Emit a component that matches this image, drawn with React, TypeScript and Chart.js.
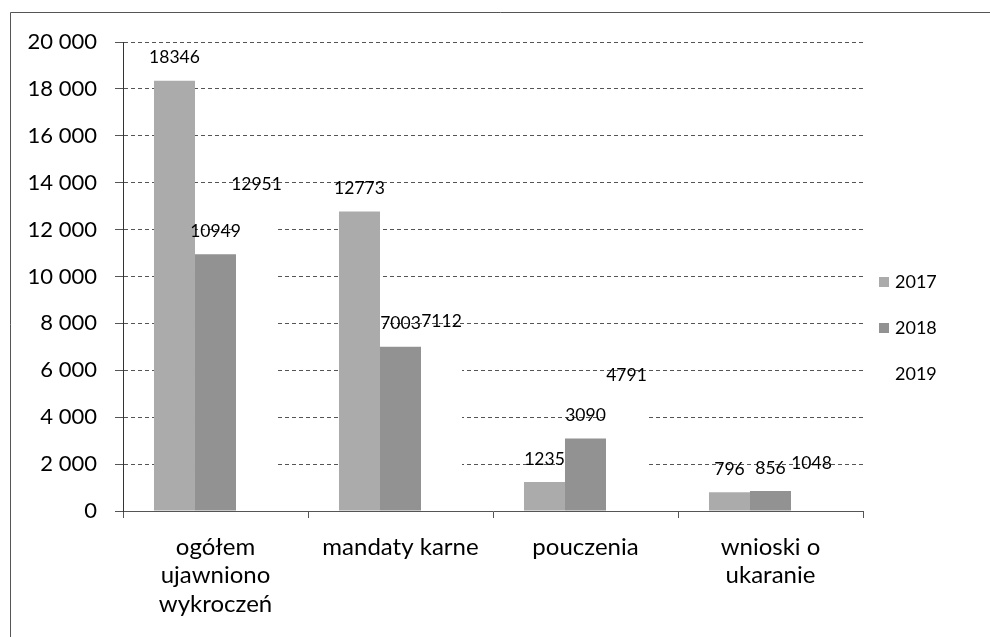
import React, { useEffect, useRef } from "react";
import { Chart, registerables } from "chart.js";

Chart.register(...registerables);

const categories: string[][] = [
  ["ogółem", "ujawniono", "wykroczeń"],
  ["mandaty karne"],
  ["pouczenia"],
  ["wnioski o", "ukaranie"],
];
const seriesLabels = ["2017", "2018", "2019"];
const values2017 = [18346, 12773, 1235, 796];
const values2018 = [10949, 7003, 3090, 856];
const values2019 = [12951, 7112, 4791, 1048];
const seriesColors = ["#ababab", "#929292", "#ffffff"];
const yMax = 20000;
const yStep = 2000;

const FONT = "Lato, 'Open Sans', sans-serif";

const fmt = (v: number) => String(v).replace(/\B(?=(\d{3})+(?!\d))/g, " ");

const framePlugin = {
  id: "frame",
  beforeDraw(chart: any) {
    const ctx = chart.ctx;
    ctx.save();
    ctx.fillStyle = "#ffffff";
    ctx.fillRect(0, 0, chart.width, chart.height);
    ctx.strokeStyle = "#555555";
    ctx.lineWidth = 1;
    ctx.beginPath();
    ctx.moveTo(10.5, chart.height);
    ctx.lineTo(10.5, 12.5);
    ctx.lineTo(chart.width, 12.5);
    ctx.stroke();
    ctx.restore();
  },
};

const labelsPlugin = {
  id: "valueLabels",
  afterDatasetsDraw(chart: any) {
    const ctx = chart.ctx;
    ctx.save();
    ctx.font = `17.5px ${FONT}`;
    ctx.fillStyle = "#000000";
    ctx.textAlign = "center";
    ctx.textBaseline = "middle";
    chart.data.datasets.forEach((ds: any, i: number) => {
      const meta = chart.getDatasetMeta(i);
      meta.data.forEach((bar: any, j: number) => {
        ctx.fillText(String(ds.data[j]), bar.x, bar.y - 23);
      });
    });
    ctx.restore();
  },
};

const legendPlugin = {
  id: "customLegend",
  afterDraw(chart: any) {
    const ctx = chart.ctx;
    ctx.save();
    ctx.font = `18px ${FONT}`;
    ctx.textAlign = "left";
    ctx.textBaseline = "middle";
    chart.data.datasets.forEach((ds: any, i: number) => {
      const y = 282 + i * 46;
      ctx.fillStyle = ds.backgroundColor;
      ctx.fillRect(879, y - 5, 10, 10);
      ctx.fillStyle = "#000000";
      ctx.fillText(ds.label, 895, y);
    });
    ctx.restore();
  },
};

export default function App() {
  const ref = useRef<HTMLCanvasElement>(null);

  useEffect(() => {
    if (!ref.current) return;
    const series = [values2017, values2018, values2019];
    const chart = new Chart(ref.current, {
      type: "bar",
      data: {
        labels: categories,
        datasets: series.map((data, i) => ({
          label: seriesLabels[i],
          data,
          backgroundColor: seriesColors[i],
          borderWidth: 0,
          categoryPercentage: 0.665,
          barPercentage: 1,
        })),
      },
      options: {
        responsive: false,
        animation: false,
        devicePixelRatio: 1,
        layout: { padding: { left: 10, top: 42, right: 127, bottom: 0 } },
        plugins: {
          legend: { display: false },
          tooltip: { enabled: false },
        },
        scales: {
          x: {
            afterFit: (s: any) => {
              s.height = 126;
            },
            grid: {
              drawOnChartArea: false,
              drawTicks: true,
              tickLength: 7,
              tickColor: "#555555",
              offset: true,
            },
            border: { display: true, color: "#555555", width: 1 },
            ticks: {
              color: "#000000",
              padding: 15,
              maxRotation: 0,
              autoSkip: false,
              font: { family: FONT, size: 24, lineHeight: "28.5px" as any },
            },
          },
          y: {
            min: 0,
            max: yMax,
            afterFit: (s: any) => {
              s.width = 113;
            },
            grid: {
              color: "#555555",
              lineWidth: 1,
              drawTicks: true,
              tickLength: 8,
              tickColor: "#555555",
            },
            border: { display: true, color: "#333333", width: 1, dash: [4, 3] },
            ticks: {
              stepSize: yStep,
              color: "#000000",
              padding: 18,
              font: { family: FONT, size: 22 },
              callback: (v: any) => fmt(Number(v)),
            },
          },
        },
      },
      plugins: [framePlugin, labelsPlugin, legendPlugin],
    });
    return () => chart.destroy();
  }, []);

  return (
    <div style={{ position: "absolute", left: 0, top: 0, width: 990, height: 637 }}>
      <canvas ref={ref} width={990} height={637} style={{ display: "block" }} />
    </div>
  );
}
